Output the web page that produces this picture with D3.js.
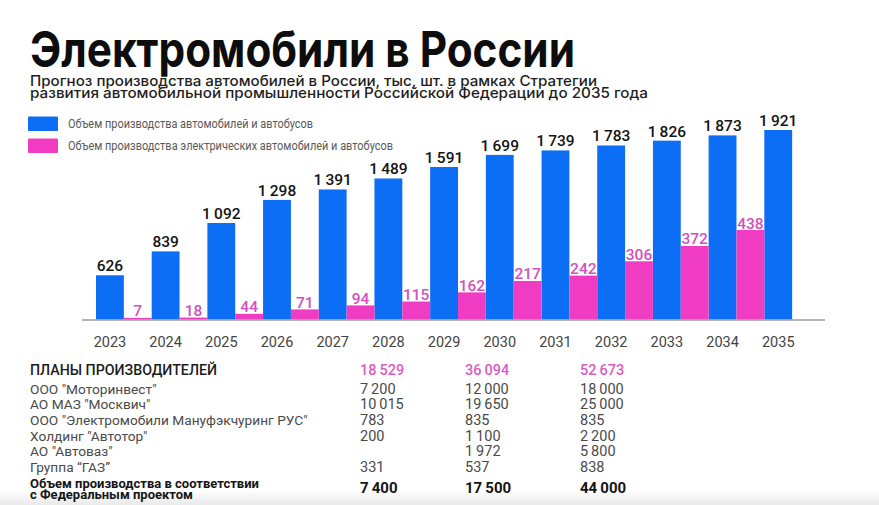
<!DOCTYPE html>
<html>
<head>
<meta charset="utf-8">
<title>Электромобили в России</title>
<script src="https://d3js.org/d3.v7.min.js"></script>
<style>
  body { margin: 0; background: #fff; }
  svg { display: block; font-family: Roboto, "Noto Sans", sans-serif; }
</style>
</head>
<body>
<div id="chart"></div>
<script>

// data (thousand units)
var years = [2023, 2024, 2025, 2026, 2027, 2028, 2029, 2030, 2031, 2032, 2033, 2034, 2035];
var totalProduction = [626, 839, 1092, 1298, 1391, 1489, 1591, 1699, 1739, 1783, 1826, 1873, 1921];
var electricYears = [2023, 2024, 2025, 2026, 2027, 2028, 2029, 2030, 2031, 2032, 2033, 2034];
var electricProduction = [7, 18, 44, 71, 94, 115, 162, 217, 242, 306, 372, 438];

var seriesNames = ["Объем производства автомобилей и автобусов",
                   "Объем производства электрических автомобилей и автобусов"];

// manufacturers table
var manufacturers = ["ООО \"Моторинвест\"", "АО МАЗ \"Москвич\"", "ООО \"Электромобили Мануфэкчуринг РУС\"",
                     "Холдинг \"Автотор\"", "АО \"Автоваз\"", "Группа “ГАЗ”"];
var planColumn1 = [7200, 10015, 783, 200, null, 331];
var planColumn2 = [12000, 19650, 835, 1100, 1972, 537];
var planColumn3 = [18000, 25000, 835, 2200, 5800, 838];
var planTotals = [18529, 36094, 52673];
var federalTargets = [7400, 17500, 44000];

var blue = "#0b6ef4", pink = "#f03cc2", pinkText = "#d450be";

var W = 879, H = 505, baseY = 319.5;

var fmt = d3.formatLocale({decimal: ",", thousands: "\u2009", grouping: [3], currency: ["", ""]}).format(",d");

var svg = d3.select("#chart").append("svg")
    .attr("width", W)
    .attr("height", H);

// faint grey at the very bottom of the slide
var grad = svg.append("defs").append("linearGradient")
    .attr("id", "fade").attr("x1", 0).attr("y1", 0).attr("x2", 0).attr("y2", 1);
grad.append("stop").attr("offset", 0).attr("stop-color", "#fff");
grad.append("stop").attr("offset", 1).attr("stop-color", "#e9e9e9");
svg.append("rect").attr("x", 0).attr("y", 490).attr("width", W).attr("height", 15).attr("fill", "url(#fade)");

// title + subtitle
svg.append("text")
    .attr("x", 30).attr("y", 66.5)
    .style("font-family", "Inter, Roboto, sans-serif")
    .style("font-weight", 700).style("font-size", "50px").style("fill", "#0d0d0d")
    .attr("textLength", 545).attr("lengthAdjust", "spacingAndGlyphs")
    .text("Электромобили в России");

var subtitle = ["Прогноз производства автомобилей в России, тыс, шт. в рамках Стратегии",
                "развития автомобильной промышленности Российской Федерации до 2035 года"];
var subWidths = [567, 618];
svg.selectAll(".sub").data(subtitle).enter().append("text")
    .attr("class", "sub")
    .attr("x", 30).attr("y", function(d, i) { return 85.5 + i * 12.3; })
    .style("font-family", "Inter, Roboto, sans-serif")
    .style("font-weight", 500).style("font-size", "14.5px").style("fill", "#1e1e1e")
    .attr("textLength", function(d, i) { return subWidths[i]; })
    .attr("lengthAdjust", "spacingAndGlyphs")
    .text(function(d) { return d; });

// legend
var legendWidths = [245, 325];
var legend = svg.selectAll(".legend").data(seriesNames).enter().append("g")
    .attr("class", "legend")
    .attr("transform", function(d, i) { return "translate(28," + (116.5 + i * 22) + ")"; });
legend.append("rect")
    .attr("width", 30).attr("height", 14.5).attr("rx", 1)
    .attr("fill", function(d, i) { return i ? pink : blue; });
legend.append("text")
    .attr("x", 40).attr("y", 11.7)
    .style("font-size", "13.5px").style("fill", "#5a5a5a")
    .attr("textLength", function(d, i) { return legendWidths[i]; })
    .attr("lengthAdjust", "spacingAndGlyphs")
    .text(function(d) { return d; });

// scales
var x = d3.scaleBand()
    .domain(years)
    .range([96, 820])
    .padding(0);
var xSub = d3.scaleBand()
    .domain(["total", "electric"])
    .range([0, x.bandwidth()]);

// the two series are drawn on separate (non proportional) scales in the original
var yTotal = d3.scaleLinear()
    .domain([232, 1921])
    .range([baseY, 130]);
var yElectric = d3.scalePow().exponent(1.2)
    .domain([0, 438])
    .range([baseY, 230]);

var totals = years.map(function(y, i) { return {year: y, value: totalProduction[i]}; });
var electric = electricYears.map(function(y, i) { return {year: y, value: electricProduction[i]}; });

// bars
svg.selectAll(".bar-total").data(totals).enter().append("rect")
    .attr("class", "bar-total")
    .attr("x", function(d) { return x(d.year) + xSub("total"); })
    .attr("y", function(d) { return yTotal(d.value); })
    .attr("width", xSub.bandwidth())
    .attr("height", function(d) { return baseY - yTotal(d.value); })
    .attr("fill", blue);

svg.selectAll(".bar-el").data(electric).enter().append("rect")
    .attr("class", "bar-el")
    .attr("x", function(d) { return x(d.year) + xSub("electric"); })
    .attr("y", function(d) { return Math.min(yElectric(d.value), baseY - 1.6); })
    .attr("width", xSub.bandwidth())
    .attr("height", function(d) { return Math.max(baseY - yElectric(d.value), 1.6); })
    .attr("fill", pink);

// value labels
svg.selectAll(".lab-total").data(totals).enter().append("text")
    .attr("class", "lab-total")
    .attr("x", function(d) { return x(d.year) + xSub("total") + xSub.bandwidth() / 2; })
    .attr("y", function(d) { return yTotal(d.value) - 4; })
    .attr("text-anchor", "middle")
    .style("font-size", "15.5px").style("font-weight", 500).style("fill", "#141414")
    .text(function(d) { return fmt(d.value); });

svg.selectAll(".lab-el").data(electric).enter().append("text")
    .attr("class", "lab-el")
    .attr("x", function(d) { return x(d.year) + xSub("electric") + xSub.bandwidth() / 2; })
    .attr("y", function(d) { return Math.min(yElectric(d.value), baseY - 1.6) - 1.5; })
    .attr("text-anchor", "middle")
    .style("font-size", "15.5px").style("font-weight", 500).style("fill", pinkText)
    .text(function(d) { return fmt(d.value); });

// x axis: year under each blue bar
var axis = svg.append("g")
    .attr("transform", "translate(0," + (baseY + 0.5) + ")")
    .call(d3.axisBottom(x).tickSize(0).tickPadding(17).tickFormat(d3.format("d")));
axis.select(".domain").remove();
axis.selectAll(".tick text")
    .attr("x", -xSub.bandwidth() / 2)
    .style("font-family", "Roboto, sans-serif")
    .style("font-size", "14.5px").style("fill", "#444");
axis.append("line")
    .attr("x1", x.range()[0] - 14).attr("x2", x.range()[1] + 5)
    .attr("stroke", "#9c9c9c").attr("stroke-width", 1.5);

// manufacturers table
var colX = [360, 465, 580];
var rowY = d3.scaleLinear().domain([0, manufacturers.length - 1]).range([393.5, 472]);
var columns = [planColumn1, planColumn2, planColumn3];

svg.append("text")
    .attr("x", 30).attr("y", 374.5)
    .style("font-size", "14px").style("font-weight", 500).style("fill", "#1c1c1c")
    .attr("textLength", 187).attr("lengthAdjust", "spacingAndGlyphs")
    .text("ПЛАНЫ ПРОИЗВОДИТЕЛЕЙ");

svg.selectAll(".maker").data(manufacturers).enter().append("text")
    .attr("class", "maker")
    .attr("x", 30).attr("y", function(d, i) { return rowY(i); })
    .style("font-size", "13.7px").style("fill", "#4a4a4a")
    .text(function(d) { return d; });

svg.selectAll(".plan-total").data(planTotals).enter().append("text")
    .attr("class", "plan-total")
    .attr("x", function(d, i) { return colX[i]; }).attr("y", 374.5)
    .style("font-size", "14.5px").style("font-weight", 500).style("fill", "#d95cc3")
    .text(function(d) { return fmt(d); });

columns.forEach(function(col, c) {
  svg.selectAll(".cell" + c).data(col).enter().append("text")
      .attr("class", "cell" + c)
      .attr("x", colX[c]).attr("y", function(d, i) { return rowY(i); })
      .style("font-size", "14.5px").style("fill", "#4a4a4a")
      .text(function(d) { return d == null ? "" : fmt(d); });
});

var fedLabel = ["Объем производства в соответствии", "с Федеральным проектом"];
svg.selectAll(".fed").data(fedLabel).enter().append("text")
    .attr("class", "fed")
    .attr("x", 30).attr("y", function(d, i) { return 487.5 + i * 11; })
    .style("font-size", "13px").style("font-weight", 700).style("fill", "#151515")
    .text(function(d) { return d; });

svg.selectAll(".fed-val").data(federalTargets).enter().append("text")
    .attr("class", "fed-val")
    .attr("x", function(d, i) { return colX[i]; }).attr("y", 492.5)
    .style("font-size", "15px").style("font-weight", 700).style("fill", "#151515")
    .text(function(d) { return fmt(d); });

</script>
</body>
</html>
